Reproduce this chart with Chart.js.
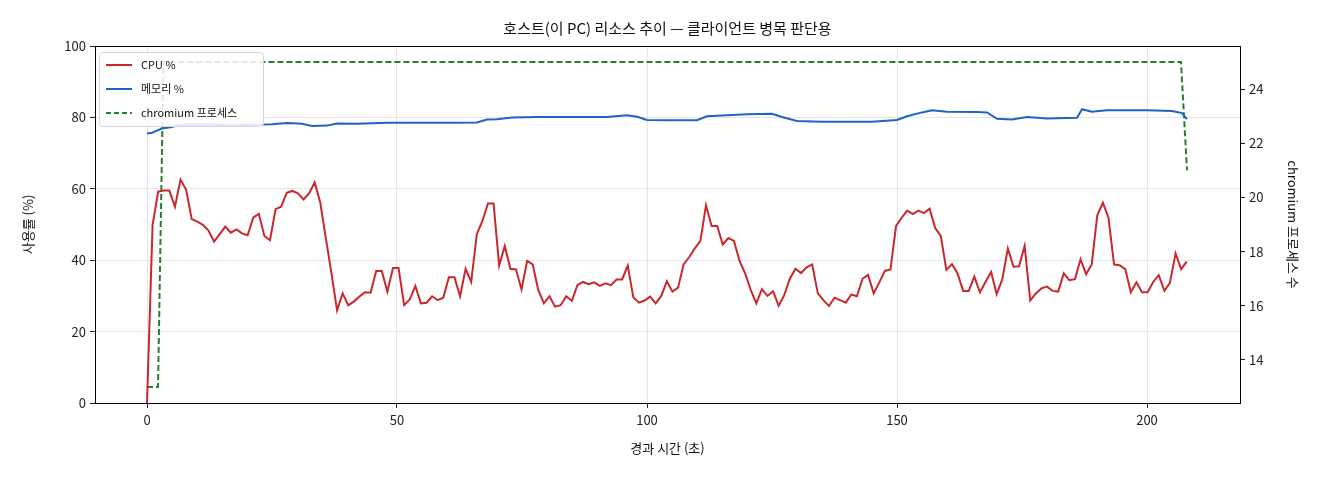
<!DOCTYPE html>
<html><head><meta charset="utf-8">
<script src="https://cdn.jsdelivr.net/npm/chart.js@4"></script>
<style>html,body{margin:0;padding:0;background:#fff}#w{width:1320px;height:480px}</style>
</head><body><div id="w"><canvas id="c"></canvas></div>
<script>
const FONT = "'Noto Sans CJK KR','Noto Sans',sans-serif";
const titleText = "호스트(이 PC) 리소스 추이 — 클라이언트 병목 판단용";
const xLabel = "경과 시간 (초)";
const yLabel = "사용률 (%)";
const y2Label = "chromium 프로세스 수";
const seriesNames = ["CPU %", "메모리 %", "chromium 프로세스"];
const sampleSec = 1.118;
const cpu = [0,49.9,59.2,59.5,59.5,55,62.6,59.7,51.5,50.8,49.9,48.3,45.2,47.3,49.4,47.7,48.6,47.5,47,51.9,53,46.8,45.6,54.3,55,58.9,59.4,58.7,57,58.7,61.8,56.1,46.1,36.3,26,30.7,27.4,28.4,29.8,31,30.9,37,37,31.2,37.8,37.8,
27.4,29,32.8,27.9,28.1,29.9,28.8,29.5,35.2,35.2,29.9,37.6,33.9,47.3,51,55.9,55.9,38.5,44,37.6,37.4,31.8,39.8,38.8,31.6,27.9,29.9,27,27.4,29.9,28.6,33,33.9,33.3,33.8,32.8,33.5,33,34.6,34.6,38.5,29.6,28.1,28.7,29.8,
27.9,30,34.1,31.2,32.3,38.8,40.9,43.3,45.4,55.4,49.6,49.6,44.4,46.2,45.4,39.8,36.3,31.7,27.9,31.9,30,31.3,27.2,30.2,34.8,37.6,36.4,38,38.8,30.7,28.8,27.2,29.5,28.8,28.1,30.4,29.9,34.8,35.9,30.7,33.8,37,37.4,49.6,51.9,
53.9,52.9,53.9,53.2,54.4,49,46.8,37.3,38.9,36.3,31.4,31.4,35.4,31,33.9,36.7,30.5,34.6,43.3,38.2,38.3,44,28.7,30.7,32.1,32.6,31.4,31.2,36.3,34.4,34.7,40.2,36.1,38.8,52.6,56.1,51.9,38.8,38.6,37.5,31,33.8,31,31,33.9,35.8,31.4,33.7,41.9,37.5,39.6];
const memT = [0,1,2,3,5,6,8,12,16,20,25,28,31,33,36,38,42,48,55,62,66,68,70,73,78,85,92,96,98,100,105,110,112,116,120,125,127,130,135,145,150,152,155,157,160,166,168,170,173,176,180,186,187,189,192,200,205,207,208];
const memV = [75.5,75.7,76.3,76.9,77.3,77.8,78,78,77.8,77.9,78.1,78.4,78.2,77.6,77.7,78.3,78.2,78.5,78.5,78.5,78.6,79.4,79.5,80,80.1,80.1,80.1,80.6,80.2,79.3,79.2,79.2,80.3,80.6,80.9,81,80.1,79,78.8,78.8,79.3,80.3,81.4,82,81.6,81.5,81.4,79.6,79.4,80.1,79.7,79.9,82.3,81.6,82,82,81.8,81.2,79.5];
const chrT = [0,2.2,3.3,206.8,208];
const chrV = [13,13,25,25,21];
const xTicks = [0,50,100,150,200];

const cpuPts = cpu.map((v,i)=>({x:i*sampleSec,y:v}));
const memPts = memT.map((t,i)=>({x:t,y:memV[i]}));
const chrPts = chrT.map((t,i)=>({x:t,y:chrV[i]}));
const colors = ["#c9282d","#1f63c6","#2a7d2e"];

const deco = {id:'deco', afterDraw(ch){
  const {ctx,chartArea:a}=ch; ctx.save();
  ctx.strokeStyle='#000'; ctx.lineWidth=1; ctx.strokeRect(a.left+0.5,a.top+0.5,a.right-a.left,a.bottom-a.top);
  ctx.fillStyle='#111'; ctx.font="15px "+FONT; ctx.textAlign='center'; ctx.textBaseline='middle';
  ctx.fillText(titleText,(a.left+a.right)/2,28);
  const lx=a.left+4, ly=a.top+6, w=164, h=74;
  ctx.fillStyle='rgba(255,255,255,0.85)'; ctx.strokeStyle='#d6d6d6';
  ctx.beginPath(); ctx.roundRect(lx+0.5,ly+0.5,w,h,3); ctx.fill(); ctx.stroke();
  ctx.font="11px "+FONT; ctx.textAlign='left';
  seriesNames.forEach((n,i)=>{const y=ly+13+i*24; ctx.strokeStyle=colors[i]; ctx.lineWidth=2;
    ctx.setLineDash(i==2?[5,3]:[]); ctx.beginPath(); ctx.moveTo(lx+7,y); ctx.lineTo(lx+33,y); ctx.stroke();
    ctx.setLineDash([]); ctx.fillStyle='#111'; ctx.fillText(n,lx+42,y);});
  ctx.restore();
}};
new Chart(document.getElementById('c'),{type:'line',
 data:{datasets:[
  {label:seriesNames[0],data:cpuPts,borderColor:colors[0],borderWidth:2,pointRadius:0,yAxisID:'y',tension:0},
  {label:seriesNames[1],data:memPts,borderColor:colors[1],borderWidth:2,pointRadius:0,yAxisID:'y',tension:0},
  {label:seriesNames[2],data:chrPts,borderColor:colors[2],borderWidth:2,borderDash:[6,3],pointRadius:0,yAxisID:'y2',tension:0}]},
 plugins:[deco],
 options:{responsive:true,maintainAspectRatio:false,animation:false,
  layout:{padding:{top:46,left:16,right:15,bottom:20}},
  plugins:{legend:{display:false},title:{display:false},tooltip:{enabled:false}},
  scales:{
   x:{type:'linear',min:-10.4,max:218.6,afterBuildTicks(s){s.ticks=xTicks.map(v=>({value:v}));},
      afterFit(s){s.height=57;},
      ticks:{color:'#222',font:{family:FONT,size:13},maxRotation:0,padding:4},
      grid:{color:'#e6e6e6',tickColor:'#222',tickLength:5},border:{color:'#000'},
      title:{display:true,text:xLabel,color:'#111',font:{family:FONT,size:13},padding:{top:6}}},
   y:{position:'left',min:0,max:100,ticks:{stepSize:20,color:'#222',font:{family:FONT,size:13},padding:4},
      afterFit(s){s.width=79;},
      grid:{color:'#e6e6e6',tickColor:'#222',tickLength:5},border:{color:'#000'},
      title:{display:true,text:yLabel,color:'#111',font:{family:FONT,size:13},padding:{bottom:4}}},
   y2:{position:'right',min:12.41,max:25.59,afterBuildTicks(s){s.ticks=[14,16,18,20,22,24].map(v=>({value:v}));},
      afterFit(s){s.width=65;},
      ticks:{color:'#222',font:{family:FONT,size:13},padding:4},
      grid:{drawOnChartArea:false,tickColor:'#222',tickLength:5},border:{color:'#000'},
      title:{display:true,text:y2Label,color:'#111',font:{family:FONT,size:13},padding:{top:4}}}
  }}});
</script></body></html>
